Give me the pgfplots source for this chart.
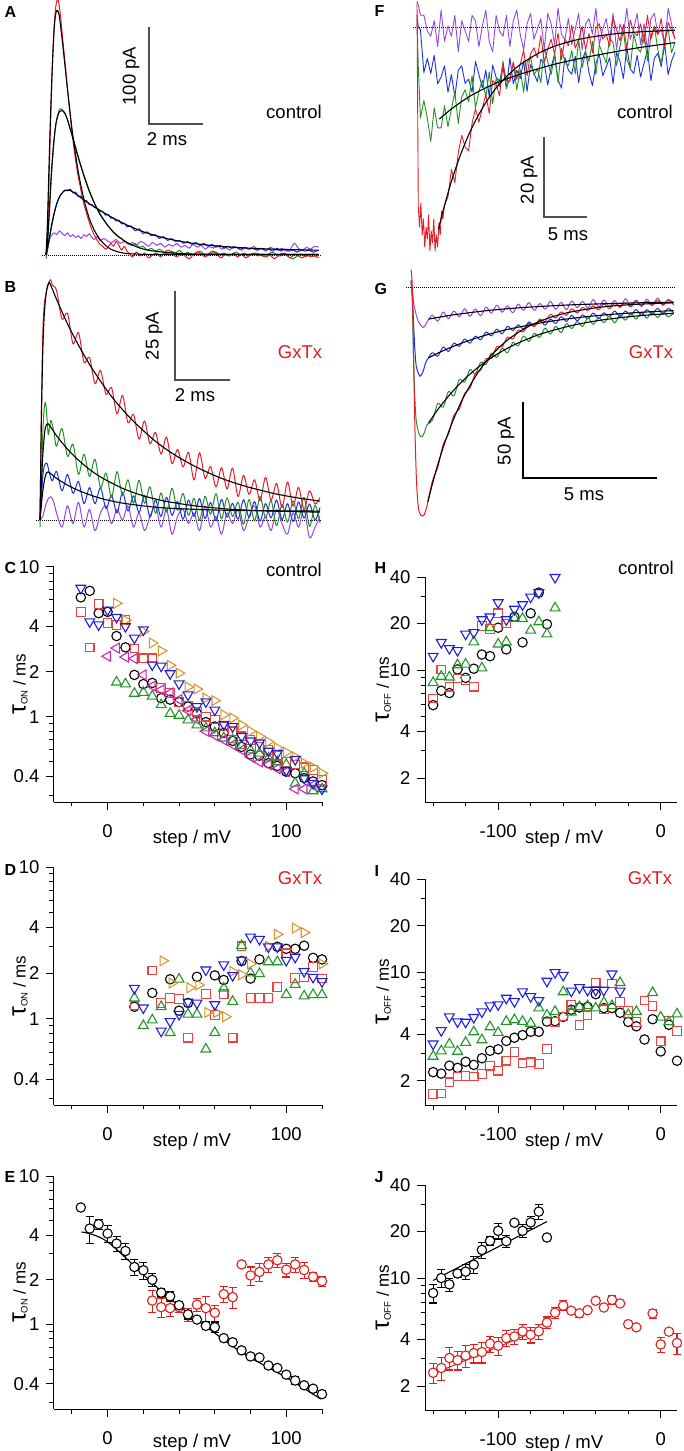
\documentclass[border=0pt]{standalone}
\usepackage{fontspec}
\setmainfont{Liberation Sans}
\usepackage{pgfplots}
\pgfplotsset{compat=1.18}

\definecolor{tred}{RGB}{232,28,36}
\definecolor{tgreen}{RGB}{34,145,40}
\definecolor{tblue}{RGB}{28,48,228}
\definecolor{tpurple}{RGB}{150,70,225}
\definecolor{sred}{RGB}{236,66,66}
\definecolor{sgreen}{RGB}{34,150,40}
\definecolor{sblue}{RGB}{30,30,225}
\definecolor{sorange}{RGB}{214,150,52}
\definecolor{smag}{RGB}{200,40,170}
\definecolor{ered}{RGB}{228,28,28}
\definecolor{barc}{RGB}{80,80,80}

\newcommand\lbl{\fontsize{18.5}{20}\selectfont}
\newcommand\lett{\fontsize{16}{18}\selectfont\bfseries}
\newcommand\tauon{{\fontsize{25}{25}\selectfont τ}\raisebox{-2pt}{\fontsize{9.5}{10}\selectfont ON}{\fontsize{17}{18}\selectfont\ / ms}}
\newcommand\tauoff{{\fontsize{25}{25}\selectfont τ}\raisebox{-2pt}{\fontsize{9.5}{10}\selectfont OFF}{\fontsize{17}{18}\selectfont\ / ms}}

\pgfplotsset{
  mytrace/.style={scale only axis, axis lines=none, ticks=none, clip=false},
  mytr/.style={line width=1pt, smooth, line join=round},
  mynz/.style={line width=0.9pt, line join=round},
  myfit/.style={black, line width=1.1pt, smooth},
  mybase/.style={black, line width=1pt, densely dotted},
  myscat/.style={scale only axis, clip=false,
    axis x line*=bottom, axis y line*=left,
    axis line style={-, line width=1pt},
    tick align=outside, major tick length=8pt, minor tick length=4.5pt,
    tick style={black, line width=1pt},
    tick label style={font=\lbl},
    label style={font=\lbl},
    xticklabel style={anchor=north, yshift=-11pt},
    yticklabel style={anchor=east, xshift=-3pt}},
  myleft/.style={myscat, width=268pt, xmin=-30, xmax=120,
    xtick={0,100}, xticklabels={0,100}, minor xtick={-20,20,40,60,80,120},
    ymin=0.27, ymax=10, ytick={0.4,1,2,4,10}, yticklabels={0.4,1,2,4,10},
    minor ytick={0.3,0.5,0.6,0.7,0.8,0.9,3,5,6,7,8,9},
    xlabel={step / mV}, ylabel={\tauon},
    xlabel style={at={(axis description cs:0.515,0)}, anchor=center, yshift=-37pt},
    ylabel style={at={(axis description cs:-0.127,0.5)}, anchor=center}},
  myright/.style={myscat, width=252pt, xmin=-145, xmax=10,
    xtick={-100,0}, xticklabels={-100,0}, minor xtick={-140,-120,-80,-60,-40,-20},
    ymin=1.4, ymax=40, ytick={2,4,10,20,40}, yticklabels={2,4,10,20,40},
    minor ytick={3,5,6,7,8,9,30},
    xlabel={step / mV}, ylabel={\tauoff},
    xlabel style={at={(axis description cs:0.552,0)}, anchor=center, yshift=-37pt},
    ylabel style={at={(axis description cs:-0.165,0.5)}, anchor=center}},
  myci/.style={only marks, mark=o, mark size=4.7pt, mark options={line width=1.1pt, solid}},
  mysq/.style={only marks, mark=square, mark size=4.3pt, mark options={line width=1.1pt, solid}},
  mytu/.style={only marks, mark=triangle, mark size=5.7pt, mark options={line width=1.1pt, solid}},
  mytd/.style={only marks, mark=triangle, mark size=5.7pt, mark options={line width=1.1pt, solid, rotate=180}},
  mytrt/.style={only marks, mark=triangle, mark size=5.7pt, mark options={line width=1.1pt, solid, rotate=-90}},
  mytl/.style={only marks, mark=triangle, mark size=5.7pt, mark options={line width=1.1pt, solid, rotate=90}},
  mycw/.style={only marks, mark=*, mark size=4.7pt, mark options={fill=white, line width=1.1pt, solid},
    error bars/y dir=both, error bars/y explicit,
    error bars/error bar style={line width=1.1pt},
    error bars/error mark options={rotate=90, mark size=4pt, line width=1.1pt}},
}

\begin{document}
\begin{tikzpicture}
\path[use as bounding box] (0,0) rectangle (683pt,-1451pt);

% ---------------- A : control, ON currents
\begin{axis}[mytrace, at={(46pt,-264.7pt)}, anchor=south west, width=274pt, height=263.8pt,
  xmin=0, xmax=10.15, ymin=-10, ymax=262]
\addplot[mybase] coordinates {(-0.15,0) (10.15,0)};
\addplot[mytr, tpurple] coordinates {(0,0) (0.05,6) (0.1,13) (0.15,18) (0.2,20) (0.3,23) (0.4,21) (0.5,25) (0.6,22) (0.7,20) (0.8,23) (0.9,19) (1.0,21) (1.1,18) (1.2,20) (1.3,17) (1.4,21) (1.5,19) (1.6,22) (1.7,18) (1.8,16) (1.9,19) (2.0,15) (2.15,17) (2.3,14) (2.45,13) (2.6,16) (2.75,12) (2.9,14) (3.05,11) (3.2,13) (3.35,10) (3.5,14) (3.65,12) (3.8,9) (3.95,13) (4.1,10) (4.25,12) (4.4,8) (4.55,11) (4.7,9) (4.85,12) (5.0,8) (5.15,10) (5.3,7) (5.45,11) (5.6,8) (5.75,10) (5.9,6) (6.05,9) (6.2,7) (6.35,10) (6.5,6) (6.65,8) (6.8,5) (6.95,9) (7.1,7) (7.25,5) (7.4,8) (7.55,6) (7.7,9) (7.85,5) (8.0,7) (8.15,4) (8.3,8) (8.45,6) (8.6,5) (8.75,7) (8.9,4) (9.05,6) (9.2,12) (9.35,7) (9.5,5) (9.65,8) (9.8,6) (9.95,9) (10.1,8)};
\addplot[mytr, tblue] coordinates {(0,0) (0.05,4) (0.1,12) (0.15,20) (0.2,28) (0.3,42) (0.4,53) (0.5,60) (0.6,64) (0.7,67) (0.8,66) (0.9,68) (1.0,64) (1.1,65) (1.2,60) (1.3,61) (1.4,56) (1.5,56) (1.6,52) (1.7,52) (1.8,49) (1.9,48) (2.0,45) (2.1,45) (2.2,41) (2.3,42) (2.4,38) (2.5,38) (2.6,35) (2.7,36) (2.8,32) (2.9,33) (3.0,29) (3.15,30) (3.3,25) (3.45,27) (3.6,22) (3.75,24) (3.9,20) (4.05,21) (4.2,17) (4.35,19) (4.5,15) (4.65,17) (4.8,14) (4.95,15) (5.1,12) (5.25,14) (5.4,11) (5.55,13) (5.7,10) (5.85,12) (6.0,9) (6.15,11) (6.3,8) (6.45,10) (6.6,7) (6.75,9) (6.9,7) (7.05,8) (7.2,6) (7.35,8) (7.5,6) (7.65,7) (7.8,5) (7.95,7) (8.1,5) (8.25,6) (8.4,4) (8.55,7) (8.7,4) (8.85,6) (9.0,4) (9.15,5) (9.3,3) (9.45,5) (9.6,4) (9.75,5) (9.9,3) (10.1,5)};
\addplot[mytr, tgreen] coordinates {(0,-4) (0.05,5) (0.1,30) (0.15,55) (0.2,80) (0.25,100) (0.3,118) (0.35,131) (0.4,140) (0.45,146) (0.5,150) (0.55,151) (0.6,150) (0.7,146) (0.8,139) (0.9,130) (1.0,121) (1.1,111) (1.2,101) (1.3,92) (1.4,83) (1.5,75) (1.6,67) (1.7,60) (1.8,53) (1.9,48) (2.0,43) (2.1,38) (2.2,34) (2.3,30) (2.4,27) (2.5,23) (2.6,21) (2.7,18) (2.8,17) (2.9,14) (3.0,13) (3.15,10) (3.3,12) (3.45,8) (3.6,9) (3.75,5) (3.9,7) (4.05,4) (4.2,6) (4.35,3) (4.5,1) (4.65,4) (4.8,2) (4.95,5) (5.1,1) (5.25,3) (5.4,0) (5.55,2) (5.7,4) (5.85,1) (6.0,-1) (6.15,2) (6.3,3) (6.45,0) (6.6,2) (6.75,-1) (6.9,1) (7.05,3) (7.2,0) (7.35,2) (7.5,-1) (7.65,1) (7.8,2) (7.95,0) (8.1,-2) (8.25,1) (8.4,3) (8.55,0) (8.7,-1) (8.85,2) (9.0,-2) (9.15,-4) (9.3,-1) (9.45,1) (9.6,-2) (9.75,0) (9.9,1) (10.1,-1)};
\addplot[mytr, tred] coordinates {(0,0) (0.05,20) (0.1,65) (0.15,115) (0.2,165) (0.25,205) (0.3,235) (0.35,253) (0.4,262) (0.45,263) (0.5,255) (0.55,243) (0.6,228) (0.7,200) (0.8,170) (0.9,143) (1.0,118) (1.1,97) (1.2,80) (1.3,66) (1.4,53) (1.5,43) (1.6,34) (1.7,26) (1.8,20) (1.9,15) (2.0,11) (2.1,9) (2.2,6) (2.3,8) (2.4,12) (2.5,9) (2.6,14) (2.7,10) (2.8,5) (2.9,9) (3.0,4) (3.1,1) (3.2,-2) (3.35,3) (3.5,-1) (3.65,2) (3.8,-3) (3.95,0) (4.1,2) (4.25,-2) (4.4,3) (4.55,5) (4.7,1) (4.85,-2) (5.0,2) (5.15,-1) (5.3,-4) (5.45,0) (5.6,3) (5.75,1) (5.9,-2) (6.05,2) (6.2,4) (6.35,0) (6.5,-3) (6.65,1) (6.8,-1) (6.95,2) (7.1,-2) (7.25,1) (7.4,-3) (7.55,0) (7.7,2) (7.85,-1) (8.0,1) (8.15,-2) (8.3,0) (8.45,-4) (8.6,-1) (8.75,2) (8.9,0) (9.05,-3) (9.2,1) (9.35,-1) (9.5,-3) (9.65,0) (9.8,-2) (9.95,-1) (10.1,-3)};
\addplot[myfit] coordinates {(0,0) (0.1,14) (0.2,30) (0.3,43) (0.4,53) (0.5,60) (0.6,64) (0.7,66.5) (0.8,67) (0.9,66.5) (1.0,65) (1.2,61) (1.4,57) (1.6,53) (1.8,49.5) (2.0,46) (2.4,39.5) (2.8,33.5) (3.2,28.5) (3.6,24) (4.0,20.5) (4.5,16.8) (5.0,14) (5.5,11.8) (6.0,10.2) (6.5,8.9) (7.0,7.9) (7.5,7.1) (8.0,6.5) (8.5,6) (9.0,5.6) (9.5,5.3) (10.1,5)};
\addplot[myfit] coordinates {(0,0) (0.05,12) (0.1,35) (0.15,60) (0.2,85) (0.25,104) (0.3,120) (0.35,132) (0.4,140) (0.5,148) (0.6,149) (0.7,146) (0.8,139) (1.0,120) (1.2,100) (1.4,82) (1.6,66) (1.8,53) (2.0,42) (2.3,30) (2.6,21) (3.0,13) (3.5,7) (4.0,4) (5.0,1.5) (6.0,0.8) (10.1,0.5)};
\addplot[myfit] coordinates {(0,0) (0.05,30) (0.1,80) (0.15,128) (0.2,170) (0.25,205) (0.3,232) (0.35,247) (0.4,252) (0.45,251) (0.5,245) (0.6,222) (0.7,196) (0.8,170) (0.9,145) (1.0,122) (1.2,85) (1.4,58) (1.6,38) (1.8,25) (2.0,16) (2.2,10) (2.4,6) (2.7,3) (3.0,1.5) (3.5,0.8) (4.0,0.5) (10.1,0.5)};
\end{axis}

% ---------------- B : GxTx, ON currents
\begin{axis}[mytrace, at={(40pt,-537.8pt)}, anchor=south west, width=280pt, height=259.9pt,
  xmin=0, xmax=10.18, ymin=-5, ymax=68]
\addplot[mybase] coordinates {(-0.15,0) (10.18,0)};
\addplot[mytr, tpurple] coordinates {(0,0) (0.1,1) (0.2,4) (0.3,6) (0.4,6.5) (0.5,5) (0.6,2) (0.8,-2) (1.0,4) (1.2,-1) (1.4,5) (1.6,-2) (1.8,3) (2.0,-3) (2.2,2) (2.4,4) (2.6,-1) (2.8,3) (3.0,0) (3.2,4) (3.4,-2) (3.6,2) (3.8,-3) (4.0,1) (4.2,4) (4.4,-2) (4.6,3) (4.8,-4) (5.0,1) (5.2,3) (5.4,-1) (5.6,2) (5.8,-3) (6.0,4) (6.2,-2) (6.4,1) (6.6,-4) (6.8,2) (7.0,-1) (7.2,3) (7.4,-3) (7.6,1) (7.8,4) (8.0,-2) (8.2,1) (8.4,-3) (8.6,3) (8.8,-1) (9.0,-4) (9.2,2) (9.4,-2) (9.6,3) (9.8,-5) (10.0,-2) (10.18,1)};
\addplot[mytr, tblue] coordinates {(0,0) (0.05,6) (0.1,12) (0.15,15) (0.25,16) (0.35,13) (0.45,11) (0.6,13.7) (0.8,8.2) (1.0,12.8) (1.2,7.5) (1.4,10.8) (1.6,4.6) (1.8,9.1) (2.0,4.6) (2.2,9.1) (2.4,3.2) (2.6,6.9) (2.8,2.0) (3.0,7.8) (3.2,2.5) (3.4,6.8) (3.6,2.1) (3.8,6.9) (4.0,0.8) (4.2,5.6) (4.4,1.0) (4.6,6.4) (4.8,1.3) (5.0,5.2) (5.2,0.2) (5.4,5.6) (5.6,1.0) (5.8,6.0) (6.0,0.4) (6.2,4.9) (6.4,-0.2) (6.6,5.8) (6.8,0.8) (7.0,4.7) (7.2,0.2) (7.4,5.7) (7.6,0.7) (7.8,5.2) (8.0,-0.3) (8.2,4.6) (8.4,0.6) (8.6,5.6) (8.8,0.1) (9.0,4.6) (9.2,-0.4) (9.4,5.1) (9.6,0.5) (9.8,4.5) (10.0,0.0) (10.18,3.5)};
\addplot[mytr, tgreen] coordinates {(0,-2) (0.05,10) (0.1,24) (0.15,31) (0.2,33) (0.25,29) (0.3,24) (0.35,26) (0.4,28) (0.5,25) (0.6,20.7) (0.8,25.7) (1.0,17.9) (1.2,21.3) (1.4,12.8) (1.6,18.5) (1.8,12.2) (2.0,17.1) (2.2,9.1) (2.4,13.2) (2.6,6.4) (2.8,13.6) (3.0,6.9) (3.2,11.3) (3.4,4.7) (3.6,11.2) (3.8,4.7) (4.0,9.3) (4.2,1.9) (4.4,7.6) (4.6,2.2) (4.8,8.9) (5.0,2.7) (5.2,7.5) (5.4,1.3) (5.6,6.1) (5.8,-0.1) (6.0,6.7) (6.2,1.6) (6.4,7.4) (6.6,0.3) (6.8,6.2) (7.0,1.0) (7.2,5.0) (7.4,-1.2) (7.6,5.8) (7.8,-0.3) (8.0,6.6) (8.2,0.6) (8.4,5.5) (8.6,-1.6) (8.8,4.4) (9.0,-0.6) (9.2,5.4) (9.4,0.3) (9.6,6.3) (9.8,-1.8) (10.0,4.2) (10.18,-0.8)};
\addplot[mytr, tred] coordinates {(0,0) (0.05,30) (0.1,52) (0.15,60) (0.2,63) (0.3,66) (0.38,67.5) (0.45,66) (0.6,64.5) (0.8,56.4) (1.0,58.1) (1.2,49.5) (1.4,52.6) (1.6,44.3) (1.8,45.7) (2.0,38.3) (2.2,42.0) (2.4,35.3) (2.6,37.2) (2.8,29.8) (3.0,35.0) (3.2,27.3) (3.4,29.7) (3.6,22.7) (3.8,27.8) (4.0,21.4) (4.2,24.6) (4.4,18.5) (4.6,23.3) (4.8,15.8) (5.0,19.8) (5.2,14.9) (5.4,19.0) (5.6,11.2) (5.8,18.9) (6.0,11.7) (6.2,15.0) (6.4,9.3) (6.6,14.7) (6.8,8.7) (7.0,14.6) (7.2,6.6) (7.4,12.6) (7.6,7.2) (7.8,11.3) (8.0,5.4) (8.2,12.0) (8.4,5.6) (8.6,10.3) (8.8,3.5) (9.0,10.7) (9.2,3.9) (9.4,9.2) (9.6,2.9) (9.8,8.2) (10.0,4.5) (10.18,6.3)};
\addplot[myfit] coordinates {(0,0) (0.1,8) (0.2,12.5) (0.3,13.5) (0.6,11.7) (1.0,9.8) (1.4,8.3) (1.8,7.1) (2.2,6.1) (2.6,5.35) (3.0,4.75) (3.5,4.2) (4.0,3.75) (4.5,3.4) (5.0,3.2) (6.0,2.9) (7.0,2.7) (8.5,2.6) (10.18,2.5)};
\addplot[myfit] coordinates {(0,0) (0.05,10) (0.1,18) (0.15,23) (0.2,26) (0.3,27) (0.6,23.7) (1.0,19.9) (1.4,16.8) (1.8,14.2) (2.2,12.1) (2.6,10.4) (3.0,8.9) (3.4,7.7) (3.8,6.7) (4.2,5.9) (4.6,5.2) (5.0,4.7) (5.5,4.1) (6.0,3.65) (6.5,3.3) (7.0,3.0) (8.0,2.6) (9.0,2.4) (10.18,2.2)};
\addplot[myfit] coordinates {(0,0) (0.05,28) (0.1,47) (0.15,57) (0.2,62) (0.25,65) (0.3,66.3) (0.36,66.5) (0.6,62.0) (1.0,55.1) (1.4,49.1) (1.8,43.7) (2.2,39.0) (2.6,34.7) (3.0,31.0) (3.4,27.7) (3.8,24.8) (4.2,22.1) (4.6,19.8) (5.0,17.8) (5.5,15.6) (6.0,13.7) (6.5,12.0) (7.0,10.6) (7.5,9.4) (8.0,8.4) (8.5,7.45) (9.0,6.7) (9.5,6.05) (10.18,5.3)};
\end{axis}

% ---------------- F : control, OFF currents
\begin{axis}[mytrace, at={(417pt,-259pt)}, anchor=south west, width=258pt, height=258pt,
  xmin=0, xmax=30, ymin=-58, ymax=6.5]
\addplot[mybase] coordinates {(-0.47,0) (30,0)};
\addplot[mynz, tblue] coordinates {(0,3) (0.15,0) (0.4,-0.7) (0.8,-11.4) (1.2,-7.9) (1.6,-11.6) (2.0,-7.1) (2.4,-14.2) (2.8,-12.5) (3.2,-9.7) (3.6,-16.3) (4.0,-11.9) (4.4,-17.4) (4.8,-10.8) (5.2,-9.7) (5.6,-14.1) (6.0,-13) (6.4,-16.3) (6.8,-8.6) (7.2,-11.9) (7.6,-15.2) (8.0,-10.8) (8.4,-17.4) (8.8,-9.5) (9.2,-12.6) (9.6,-13.5) (10.0,-10.0) (10.4,-15.4) (10.8,-7.7) (11.2,-14.2) (11.6,-10.8) (12.0,-12.9) (12.4,-8.5) (12.8,-16.1) (13.2,-9.4) (13.6,-11.5) (14.0,-13.7) (14.4,-8.1) (14.8,-9.1) (15.2,-14.5) (15.6,-10.1) (16.0,-6.7) (16.4,-13.2) (16.8,-15.3) (17.2,-7.6) (17.6,-10.8) (18.0,-11.8) (18.4,-7.3) (18.8,-13.9) (19.2,-8.3) (19.6,-6.0) (20.0,-11.4) (20.4,-14.7) (20.8,-9.1) (21.2,-6.8) (21.6,-12.2) (22.0,-10.0) (22.4,-7.7) (22.8,-14.2) (23.2,-6.4) (23.6,-8.6) (24.0,-12.9) (24.4,-5.1) (24.8,-10.5) (25.2,-11.6) (25.6,-7.1) (26.0,-12.5) (26.4,-9.1) (26.8,-5.8) (27.2,-13.4) (27.6,-7.8) (28.0,-6.6) (28.4,-9.9) (28.8,-4.3) (29.2,-11.9) (29.6,-8.5) (30.0,-6.3)};
\addplot[mynz, tgreen] coordinates {(0,2) (0.15,-10) (0.4,-22.8) (0.8,-18.4) (1.2,-22.8) (1.6,-28.6) (2.0,-20.2) (2.4,-25.2) (2.8,-25.2) (3.2,-19.7) (3.6,-24.9) (4.0,-20.5) (4.4,-16.3) (4.8,-24.1) (5.2,-17.5) (5.6,-15.7) (6.0,-18.7) (6.4,-12.2) (6.8,-20.2) (7.2,-16.1) (7.6,-13.3) (8.0,-17.6) (8.4,-11.2) (8.8,-19.2) (9.2,-12.9) (9.6,-14.9) (10.0,-8.5) (10.4,-15.4) (10.8,-12.7) (11.2,-8.8) (11.6,-15.7) (12.0,-10.6) (12.4,-16.3) (12.8,-8.9) (13.2,-7.4) (13.6,-12.0) (14.0,-10.5) (14.4,-13.9) (14.8,-5.2) (15.2,-8.6) (15.6,-11.9) (16.0,-6.9) (16.4,-13.9) (16.8,-5.3) (17.2,-8.7) (17.6,-9.7) (18.0,-5.9) (18.4,-11.7) (18.8,-3.1) (19.2,-10.2) (19.6,-6.4) (20.0,-8.6) (20.4,-3.6) (20.8,-11.9) (21.2,-4.5) (21.6,-6.8) (22.0,-9.0) (22.4,-2.8) (22.8,-3.9) (23.2,-9.7) (23.6,-4.8) (24.0,-1.0) (24.4,-8.1) (24.8,-10.3) (25.2,-1.8) (25.6,-5.2) (26.0,-6.3) (26.4,-1.4) (26.8,-8.5) (27.2,-2.3) (27.6,0.2) (28.0,-5.7) (28.4,-9.2) (28.8,-3.0) (29.2,-0.5) (29.6,-6.4) (30.0,-3.9)};
\addplot[mynz, tpurple] coordinates {(0,6.5) (0.2,5) (0.4,3) (0.8,2.9) (1.2,-1) (1.6,-2.3) (2.0,1.6) (2.4,-4.9) (2.8,4.2) (3.2,-3.6) (3.6,0.3) (4.0,-2.3) (4.4,2.9) (4.8,-6.2) (5.2,1.6) (5.6,-1) (6.0,-3.6) (6.4,2.9) (6.8,1.6) (7.2,-4.9) (7.6,0.3) (8.0,4.2) (8.4,-3.6) (8.8,-6.2) (9.2,2.9) (9.6,-1) (10.0,-2.3) (10.4,2.9) (10.8,-4.9) (11.2,1.6) (11.6,4.2) (12.0,-1.8) (12.4,-5.7) (12.8,0.8) (13.2,3.4) (13.6,-3.1) (14.0,-0.5) (14.4,2.1) (14.8,-5.7) (15.2,3.4) (15.6,0.8) (16.0,-4.4) (16.4,4.7) (16.8,-1.8) (17.2,-3.1) (17.6,2.1) (18.0,-4.4) (18.4,-0.5) (18.8,3.4) (19.2,-5.7) (19.6,0.8) (20.0,2.1) (20.4,-1.8) (20.8,4.7) (21.2,-4.4) (21.6,-0.5) (22.0,2.1) (22.4,-3.1) (22.8,3.4) (23.2,-5.7) (23.6,0.8) (24.0,-1.8) (24.4,4.7) (24.8,-3.1) (25.2,-0.5) (25.6,3.4) (26.0,-4.4) (26.4,0.8) (26.8,-5.7) (27.2,2.1) (27.6,3.4) (28.0,-1.8) (28.4,-0.5) (28.8,-4.4) (29.2,4.7) (29.6,0.8) (30.0,-3.1)};
\addplot[mynz, tred] coordinates {(0,6) (0.15,-45) (0.3,-50) (0.45,-44) (0.6,-52) (0.75,-48) (0.9,-55) (1.05,-50) (1.2,-53) (1.35,-47) (1.5,-56) (1.65,-51) (1.8,-54) (1.95,-48) (2.1,-56) (2.25,-52) (2.4,-55) (2.55,-49) (2.7,-52) (2.85,-46) (3.0,-48) (3.2,-44.5) (3.6,-42.5) (4.0,-35.6) (4.4,-38.9) (4.8,-31.4) (5.2,-27.1) (5.6,-30.0) (6.0,-31.0) (6.4,-24.1) (6.8,-20.4) (7.2,-23.8) (7.6,-20.3) (8.0,-16.9) (8.4,-21.6) (8.8,-13.4) (9.2,-14.3) (9.6,-17.2) (10.0,-9.3) (10.4,-13.4) (10.8,-13.6) (11.2,-8.8) (11.6,-13.1) (12.0,-9.4) (12.4,-5.8) (12.8,-12.2) (13.2,-6.7) (13.6,-5.2) (14.0,-7.7) (14.4,-2.2) (14.8,-8.8) (15.2,-5.5) (15.6,-3.1) (16.0,-6.8) (16.4,-1.5) (16.8,-8.2) (17.2,-3.0) (17.6,-4.7) (18.0,0.5) (18.4,-5.3) (18.8,-3.1) (19.2,0.1) (19.6,-5.7) (20.0,-1.6) (20.4,-6.4) (20.8,-0.3) (21.2,0.8) (21.6,-3.0) (22.0,-1.9) (22.4,-4.8) (22.8,2.3) (23.2,-0.6) (23.6,-3.5) (24.0,0.6) (24.4,-5.4) (24.8,1.7) (25.2,-1.3) (25.6,-2.2) (26.0,0.8) (26.4,-4.1) (26.8,2.9) (27.2,-3.0) (27.6,0.0) (28.0,-1.9) (28.4,2.1) (28.8,-4.9) (29.2,1.2) (29.6,-0.8) (30.0,-2.8)};
\addplot[myfit] coordinates {(2.6,-23) (4,-20.5) (6,-17.5) (8,-15.2) (10,-13.3) (12,-11.8) (14,-10.5) (16,-9.3) (18,-8.3) (20,-7.4) (22,-6.6) (24,-5.8) (26,-5.1) (28,-4.5) (30,-3.9)};
\addplot[myfit] coordinates {(2.5,-50.5) (3,-46.2) (4,-38.6) (5,-32.3) (6,-27.0) (7,-22.6) (8,-18.9) (9,-15.8) (10,-13.3) (11,-11.2) (12,-9.4) (14,-6.7) (16,-4.8) (18,-3.5) (20,-2.6) (23,-1.7) (26,-1.2) (30,-0.8)};
\end{axis}

% ---------------- G : GxTx, OFF currents
\begin{axis}[mytrace, at={(411pt,-519pt)}, anchor=south west, width=264pt, height=249.3pt,
  xmin=0, xmax=9.85, ymin=-152, ymax=12]
\addplot[mybase] coordinates {(-0.19,0) (9.85,0)};
\addplot[mytr, tpurple] coordinates {(0,3) (0.05,-2) (0.1,-10) (0.2,-18) (0.3,-23) (0.45,-26) (0.55,-24) (0.65,-21) (0.8,-18.0) (1.0,-21.9) (1.2,-15.8) (1.4,-20.2) (1.6,-15.1) (1.8,-19.1) (2.0,-13.7) (2.2,-18.7) (2.4,-13.8) (2.6,-18.4) (2.8,-12.5) (3.0,-16.6) (3.2,-11.3) (3.4,-16.0) (3.6,-11.7) (3.8,-16.4) (4.0,-10.6) (4.2,-14.8) (4.4,-9.6) (4.6,-14.9) (4.8,-10.2) (5.0,-14.0) (5.2,-8.8) (5.4,-14.1) (5.6,-9.4) (5.8,-14.3) (6.0,-8.6) (6.2,-13.0) (6.4,-8.8) (6.6,-13.2) (6.8,-7.6) (7.0,-12.5) (7.2,-7.9) (7.4,-12.3) (7.6,-8.2) (7.8,-13.1) (8.0,-7.0) (8.2,-11.9) (8.4,-7.9) (8.6,-12.3) (8.8,-7.25) (9.0,-11.6) (9.2,-6.55) (9.4,-11.5) (9.6,-7.45) (9.8,-11.4)};
\addplot[mytr, tblue] coordinates {(0,5) (0.05,-5) (0.1,-25) (0.15,-42) (0.2,-52) (0.3,-57) (0.35,-58) (0.45,-55) (0.55,-49) (0.65,-46) (0.8,-42.6) (1.0,-44.9) (1.2,-38.8) (1.4,-41.8) (1.6,-36.3) (1.8,-38.4) (2.0,-33.6) (2.2,-36.4) (2.4,-31.7) (2.6,-34.1) (2.8,-29.0) (3.0,-31.5) (3.2,-27.1) (3.4,-30.2) (3.6,-25.3) (3.8,-28.0) (4.0,-24.3) (4.2,-27.0) (4.4,-22.3) (4.6,-25.2) (4.8,-21.1) (5.0,-24.5) (5.2,-20.5) (5.4,-23.4) (5.6,-18.9) (5.8,-22.0) (6.0,-18.0) (6.2,-21.6) (6.4,-17.7) (6.6,-20.3) (6.8,-16.5) (7.0,-20.1) (7.2,-16.3) (7.4,-19.0) (7.6,-15.2) (7.8,-18.9) (8.0,-15.2) (8.2,-17.9) (8.4,-14.2) (8.6,-18.0) (8.8,-14.3) (9.0,-17.1) (9.2,-13.4) (9.4,-17.2) (9.6,-13.5) (9.8,-16.4)};
\addplot[mytr, tgreen] coordinates {(0,5) (0.05,-10) (0.1,-50) (0.15,-75) (0.2,-88) (0.3,-96) (0.4,-98) (0.5,-95) (0.6,-90) (0.8,-87.0) (1.0,-76.0) (1.2,-78.4) (1.4,-68.1) (1.6,-71.1) (1.8,-60.4) (2.0,-61.9) (2.2,-53.7) (2.4,-56.7) (2.6,-48.9) (2.8,-50.3) (3.0,-42.9) (3.2,-45.7) (3.4,-39.6) (3.6,-42.7) (3.8,-35.9) (4.0,-38.2) (4.2,-31.6) (4.4,-35.2) (4.6,-29.9) (4.8,-32.6) (5.0,-26.4) (5.2,-30.4) (5.4,-25.3) (5.6,-29.4) (5.8,-23.5) (6.0,-26.7) (6.2,-22.0) (6.4,-25.3) (6.6,-19.6) (6.8,-24.0) (7.0,-19.4) (7.2,-22.9) (7.4,-18.4) (7.6,-23.0) (7.8,-17.6) (8.0,-21.2) (8.2,-16.8) (8.4,-20.5) (8.6,-16.2) (8.8,-19.9) (9.0,-15.6) (9.2,-19.4) (9.4,-16.1) (9.6,-18.9) (9.8,-16.7)};
\addplot[mytr, tred] coordinates {(0,12) (0.05,0) (0.1,-50) (0.15,-95) (0.2,-125) (0.25,-140) (0.3,-147) (0.4,-150) (0.5,-149) (0.6,-143) (0.8,-127) (1.0,-118) (1.2,-103) (1.4,-96) (1.6,-83.7) (1.8,-79.7) (2.0,-69.5) (2.2,-66) (2.4,-56.2) (2.6,-54.1) (2.8,-46.5) (3.0,-46.3) (3.2,-38.6) (3.4,-38.8) (3.6,-32.3) (3.8,-33.6) (4.0,-27.8) (4.2,-28.7) (4.4,-23.2) (4.6,-25.5) (4.8,-20.5) (5.0,-22.1) (5.2,-17.4) (5.4,-19.8) (5.6,-15.8) (5.8,-18.0) (6.0,-13.7) (6.2,-16.5) (6.4,-12.9) (6.6,-14.8) (6.8,-11.8) (7.0,-14.3) (7.2,-10.4) (7.4,-13.6) (7.6,-10.3) (7.8,-12.5) (8.0,-9.7) (8.2,-12.5) (8.4,-8.8) (8.6,-11.6) (8.8,-8.9) (9.0,-11.3) (9.2,-8.2) (9.4,-11.1) (9.6,-8.0) (9.8,-9.9)};
\addplot[myfit] coordinates {(0.65,-20.5) (1.0,-19.4) (1.5,-17.9) (2.0,-16.7) (2.5,-15.6) (3.0,-14.6) (4.0,-13.1) (5.0,-12.0) (6.0,-11.1) (7.0,-10.5) (8.0,-10.0) (9.0,-9.6) (9.8,-9.4)};
\addplot[myfit] coordinates {(0.65,-46) (1.0,-42.9) (1.5,-39.0) (2.0,-35.6) (2.5,-32.6) (3.0,-30.0) (3.5,-27.7) (4.0,-25.8) (5.0,-22.5) (6.0,-20.0) (7.0,-18.1) (8.0,-16.7) (9.0,-15.6) (9.8,-14.9)};
\addplot[myfit] coordinates {(0.65,-89) (1.0,-80.0) (1.5,-69.1) (2.0,-59.9) (2.5,-52.3) (3.0,-45.9) (3.5,-40.6) (4.0,-36.2) (4.5,-32.5) (5.0,-29.4) (6.0,-24.7) (7.0,-21.4) (8.0,-19.2) (9.0,-17.6) (9.8,-16.7)};
\addplot[myfit] coordinates {(0.63,-140.6) (0.8,-128.8) (1.0,-116.1) (1.25,-102.3) (1.5,-90.2) (1.75,-79.7) (2.0,-70.5) (2.5,-55.6) (3.0,-44.3) (3.5,-35.7) (4.0,-29.3) (4.5,-24.3) (5.0,-20.6) (5.5,-17.8) (6.0,-15.7) (7.0,-12.8) (8.0,-11.2) (9.0,-10.3) (9.8,-9.8)};
\end{axis}

% ---------------- C : tau ON control
\begin{semilogyaxis}[myleft, at={(54pt,-802pt)}, anchor=south west, height=235.3pt]
\addplot[myci, black] coordinates {(-15,6.25) (-10,6.9) (-5,4.9) (0,5.0) (5,3.45) (10,2.9) (15,1.9) (20,1.65) (25,1.68) (30,1.33) (35,1.3) (40,1.25) (45,1.17) (50,1.05) (55,0.92) (60,0.86) (65,0.78) (70,0.69) (75,0.63) (80,0.56) (85,0.55) (90,0.49) (95,0.47) (100,0.43) (105,0.42) (110,0.39) (115,0.37) (120,0.35)};
\addplot[mysq, sred] coordinates {(-15,5.0) (-10,2.9) (-5,5.65) (0,4.2) (5,4.1) (10,4.4) (15,2.85) (20,2.45) (25,2.45) (30,1.55) (35,1.44) (40,1.25) (45,1.18) (50,1.08) (55,1.0) (60,0.96) (65,0.86) (70,0.8) (75,0.74) (80,0.7) (85,0.63) (90,0.6) (95,0.55) (100,0.5) (105,0.48) (110,0.46) (115,0.44) (120,0.38)};
\addplot[mytu, sgreen] coordinates {(5,1.7) (10,1.65) (15,1.43) (20,1.45) (25,1.37) (30,1.2) (35,1.05) (40,1.02) (45,0.95) (50,0.88) (55,0.84) (60,0.78) (65,0.72) (70,0.7) (75,0.64) (80,0.6) (85,0.57) (90,0.53) (95,0.5) (100,0.48) (105,0.36) (110,0.42) (115,0.32) (120,0.33)};
\addplot[mytrt, sorange] coordinates {(5,5.7) (10,4.4) (20,3.7) (25,3.1) (30,2.75) (35,2.2) (40,1.95) (45,1.58) (50,1.53) (55,1.33) (60,1.28) (65,1.03) (70,0.98) (75,0.88) (80,0.8) (85,0.74) (90,0.68) (95,0.62) (100,0.58) (105,0.54) (110,0.49) (115,0.46) (120,0.42)};
\addplot[mytl, smag] coordinates {(0,2.53) (5,2.87) (10,2.5) (15,2.44) (20,1.9) (25,1.6) (30,1.51) (35,1.44) (40,1.3) (45,1.1) (50,0.96) (55,0.8) (60,0.75) (65,0.7) (70,0.65) (75,0.6) (80,0.54) (85,0.5) (90,0.48) (95,0.45) (100,0.43) (105,0.33) (110,0.33) (115,0.35)};
\addplot[mytd, sblue] coordinates {(-15,7.2) (-10,4.3) (-5,4.1) (0,5.15) (5,4.6) (10,4.0) (15,3.35) (20,3.8) (25,2.22) (30,2.18) (35,1.94) (40,1.66) (45,1.4) (50,1.17) (55,1.26) (60,1.11) (65,0.89) (70,0.86) (75,0.74) (80,0.69) (85,0.67) (90,0.59) (95,0.57) (100,0.44) (105,0.52) (110,0.39) (115,0.36) (120,0.33)};
\end{semilogyaxis}

% ---------------- D : tau ON GxTx
\begin{semilogyaxis}[myleft, at={(54pt,-1105pt)}, anchor=south west, height=238pt]
\addplot[myci, black] coordinates {(15,1.2) (25,1.48) (35,1.82) (40,1.13) (45,1.27) (50,1.89) (60,1.93) (65,1.8) (75,2.4) (80,1.84) (85,2.46) (95,2.98) (100,2.89) (105,2.89) (110,3.03) (115,2.52) (120,2.46)};
\addplot[mysq, sred] coordinates {(15,1.22) (25,2.08) (30,1.27) (35,1.37) (40,1.35) (45,0.75) (55,1.46) (60,1.06) (65,1.46) (70,0.75) (75,3.0) (80,1.37) (85,1.37) (90,1.37) (95,1.62) (100,2.7) (105,1.86) (110,1.87) (115,2.2) (120,1.84)};
\addplot[mytu, sgreen] coordinates {(15,1.37) (20,0.9) (25,0.98) (30,1.2) (35,0.81) (40,1.82) (45,1.07) (50,1.07) (55,0.63) (60,0.81) (65,1.59) (70,1.3) (75,3.03) (80,2.0) (85,1.98) (90,2.37) (95,2.37) (100,1.44) (105,1.68) (110,1.41) (115,1.44) (120,1.44)};
\addplot[mytrt, sorange] coordinates {(31,2.41) (36,1.72) (46,1.6) (51,1.67) (56,1.1) (61,1.1) (66,1.03) (70,2.05) (75,1.95) (80,2.3) (90,3.0) (95,3.6) (105,3.96) (110,3.7) (120,2.3)};
\addplot[mytd, sblue] coordinates {(15,1.59) (20,1.18) (30,0.83) (35,0.96) (40,1.07) (45,1.29) (50,1.27) (55,2.1) (60,1.24) (65,2.27) (70,1.93) (75,2.44) (80,3.46) (85,3.34) (90,2.98) (95,2.98) (100,2.43) (105,2.55) (110,2.05) (115,1.88) (120,1.76)};
\end{semilogyaxis}

% ---------------- E : tau ON means
\begin{semilogyaxis}[myleft, at={(54pt,-1409pt)}, anchor=south west, height=233pt, xlabel style={yshift=3.5pt}]
\addplot[black, line width=1.1pt, smooth] coordinates {(-14.6,4.2) (0,3.6) (30,1.68) (50,1.08) (75,0.65) (100,0.44) (119.3,0.315)};
\addplot[mycw, ered] coordinates {(25,1.45) +- (0,0.25) (30,1.31) +- (0,0.2) (35,1.29) +- (0,0.15) (40,1.31) +- (0,0.1) (45,1.17) +- (0,0.12) (50,1.36) +- (0,0.13) (55,1.29) +- (0,0.25) (60,1.2) +- (0,0.15) (65,1.6) +- (0,0.2) (70,1.53) +- (0,0.25) (75,2.54) +- (0,0.1) (80,2.14) +- (0,0.3) (85,2.26) +- (0,0.3) (90,2.54) +- (0,0.3) (95,2.71) +- (0,0.3) (100,2.34) +- (0,0.25) (105,2.54) +- (0,0.3) (110,2.33) +- (0,0.3) (115,2.1) +- (0,0.15) (120,1.96) +- (0,0.15)};
\addplot[mycw, black] coordinates {(-15,6.14) +- (0,0.2) (-10,4.43) +- (0,0.9) (-5,4.74) +- (0,0.35) (0,4.1) +- (0,0.55) (5,3.51) +- (0,0.4) (10,3.13) +- (0,0.4) (15,2.44) +- (0,0.3) (20,2.32) +- (0,0.3) (25,2.0) +- (0,0.2) (30,1.64) +- (0,0.1) (35,1.55) +- (0,0.12) (40,1.35) +- (0,0.08) (45,1.17) +- (0,0.08) (50,1.08) +- (0,0.05) (55,0.98) +- (0,0.06) (60,0.96) +- (0,0.08) (65,0.81) +- (0,0.03) (70,0.76) +- (0,0.03) (75,0.67) +- (0,0.03) (80,0.61) +- (0,0.02) (85,0.6) +- (0,0.02) (90,0.53) +- (0,0.02) (95,0.51) +- (0,0.02) (100,0.46) +- (0,0.02) (105,0.42) +- (0,0.025) (110,0.39) +- (0,0.02) (115,0.37) +- (0,0.02) (120,0.34) +- (0,0.01)};
\end{semilogyaxis}

% ---------------- H : tau OFF control
\begin{semilogyaxis}[myright, at={(425pt,-802pt)}, anchor=south west, height=225pt]
\addplot[myci, black] coordinates {(-140,5.93) (-135,7.35) (-130,7.1) (-125,10.1) (-120,8.9) (-115,10.2) (-110,12.6) (-105,12.3) (-100,18.8) (-95,13.6) (-90,22.1) (-85,15.1) (-80,23.3) (-75,31.7) (-70,19.8)};
\addplot[mysq, sred] coordinates {(-140,6.56) (-135,10.1) (-130,7.8) (-125,8.8) (-120,8.65) (-115,7.8) (-110,19.3) (-105,18.4) (-100,23.3) (-95,20.0)};
\addplot[mytu, sgreen] coordinates {(-140,8.28) (-135,9.1) (-130,9.0) (-125,10.8) (-120,10.9) (-115,15.2) (-110,10.3) (-105,18.8) (-100,14.7) (-95,15.2) (-90,21.6) (-85,21.5) (-80,18.1) (-75,20.5) (-70,17.1) (-65,25.2)};
\addplot[mytd, sblue] coordinates {(-140,12.3) (-135,15.1) (-130,13.8) (-125,13.4) (-120,17.1) (-115,17.5) (-110,21.2) (-105,22.1) (-100,27.3) (-95,21.2) (-90,24.8) (-85,26.5) (-80,29.7) (-75,31.7) (-65,39.8)};
\end{semilogyaxis}

% ---------------- I : tau OFF GxTx
\begin{semilogyaxis}[myright, at={(425pt,-1105pt)}, anchor=south west, height=226pt]
\addplot[myci, black] coordinates {(-140,2.28) (-135,2.23) (-130,2.51) (-125,2.43) (-120,2.66) (-115,2.54) (-110,2.8) (-105,3.13) (-100,3.2) (-95,3.62) (-90,3.8) (-85,3.95) (-80,4.15) (-75,4.15) (-70,4.83) (-65,4.85) (-60,5.17) (-55,5.75) (-50,5.95) (-45,6.0) (-40,7.25) (-35,5.9) (-30,5.9) (-25,5.5) (-20,4.8) (-15,4.5) (-10,3.7) (-5,5.0) (0,3.1) (5,4.6) (10,2.7)};
\addplot[mysq, sred] coordinates {(-140,1.65) (-135,1.66) (-130,1.96) (-125,2.14) (-120,2.15) (-115,2.14) (-110,2.22) (-105,2.51) (-100,2.33) (-95,2.7) (-90,3.08) (-85,2.6) (-80,2.64) (-75,2.58) (-70,3.21) (-65,4.8) (-60,5.2) (-55,6.2) (-50,4.6) (-45,5.3) (-40,8.6) (-35,5.8) (-30,8.5) (-25,6.45) (-20,5.7) (-15,4.8) (-10,6.6) (-5,6.1) (0,3.6) (5,4.9) (10,4.2)};
\addplot[mytu, sgreen] coordinates {(-140,2.88) (-135,3.12) (-130,3.45) (-125,3.1) (-120,3.54) (-115,4.14) (-110,3.68) (-105,4.46) (-100,4.1) (-95,4.83) (-90,4.95) (-85,4.83) (-80,4.7) (-75,5.9) (-70,5.3) (-65,5.6) (-60,7.5) (-55,5.54) (-50,6.0) (-45,6.1) (-40,5.9) (-35,6.4) (-30,6.1) (-25,8.6) (-20,5.35) (-15,5.6) (-5,7.4) (0,5.15) (5,4.8) (10,5.4)};
\addplot[mytd, sblue] coordinates {(-140,3.47) (-135,4.23) (-130,5.19) (-125,4.82) (-120,4.79) (-115,5.14) (-110,5.58) (-105,6.1) (-100,6.2) (-95,6.84) (-90,6.5) (-85,7.52) (-80,7.0) (-75,6.6) (-70,8.8) (-65,10.0) (-60,9.6) (-55,7.6) (-50,8.0) (-45,7.7) (-40,7.7) (-35,7.7) (-30,9.8) (-25,7.6)};
\end{semilogyaxis}

% ---------------- J : tau OFF means
\begin{semilogyaxis}[myright, at={(425pt,-1410pt)}, anchor=south west, height=225pt, xlabel style={yshift=3.5pt}]
\addplot[black, line width=1.1pt] coordinates {(-140,9.65) (-70,23.2)};
\addplot[ered, line width=1pt] coordinates {(-140,2.4) (-72,4.75)};
\addplot[mycw, black] coordinates {(-140,8.0) +- (0,1.1) (-135,10.0) +- (0,1.3) (-130,9.1) +- (0,0.9) (-125,10.7) +- (0,0.6) (-120,11.0) +- (0,1.2) (-115,12.2) +- (0,1.5) (-110,15.2) +- (0,1.8) (-105,17.4) +- (0,1.2) (-100,20.2) +- (0,2.3) (-95,17.3) +- (0,1.5) (-90,22.8) +- (0,0.5) (-85,20.2) +- (0,2) (-80,22.9) +- (0,2) (-75,26.9) +- (0,3) (-70,18.3) +- (0,0.8)};
\addplot[mycw, ered] coordinates {(-140,2.44) +- (0,0.35) (-135,2.62) +- (0,0.45) (-130,3.04) +- (0,0.5) (-125,2.94) +- (0,0.4) (-120,3.15) +- (0,0.5) (-115,3.27) +- (0,0.45) (-110,3.32) +- (0,0.5) (-105,3.76) +- (0,0.45) (-100,3.65) +- (0,0.5) (-95,4.09) +- (0,0.5) (-90,4.19) +- (0,0.45) (-85,4.52) +- (0,0.5) (-80,4.3) +- (0,0.5) (-75,4.52) +- (0,0.5) (-70,5.15) +- (0,0.45) (-65,5.97) +- (0,0.5) (-60,6.63) +- (0,0.5) (-55,6.15) +- (0,0.25) (-50,5.92) +- (0,0.35) (-45,6.2) +- (0,0.2) (-40,7.13) +- (0,0.3) (-35,6.45) +- (0,0.15) (-30,7.23) +- (0,0.45) (-25,6.85) +- (0,0.3) (-20,5.03) +- (0,0.1) (-15,4.8) +- (0,0.1) (-5,5.9) +- (0,0.4) (0,3.72) +- (0,0.4) (5,4.5) +- (0,0.1) (10,3.8) +- (0,0.6)};
\end{semilogyaxis}

% ---------------- scale bars, panel letters and labels
\draw[barc, line width=1.3pt] (149pt,-27pt) -- (149pt,-124pt) -- (203pt,-124pt);
\node[rotate=90, font=\lbl] at (131pt,-76pt) {100 pA};
\node[font=\lbl] at (167pt,-139pt) {2 ms};
\node[font=\lbl] at (294pt,-112pt) {control};

\draw[barc, line width=1.3pt] (175pt,-291pt) -- (175pt,-380pt) -- (230pt,-380pt);
\node[rotate=90, font=\lbl] at (154pt,-336pt) {25 pA};
\node[font=\lbl] at (195pt,-395pt) {2 ms};
\node[font=\lbl, text=ered] at (300pt,-352pt) {GxTx};

\draw[barc, line width=1.3pt] (544pt,-137pt) -- (544pt,-217pt) -- (587pt,-217pt);
\node[rotate=90, font=\lbl] at (529pt,-180pt) {20 pA};
\node[font=\lbl] at (568pt,-234pt) {5 ms};
\node[font=\lbl] at (645pt,-112pt) {control};

\draw[black, line width=1.3pt] (523pt,-402pt) -- (523pt,-478pt) -- (657pt,-478pt);
\node[rotate=90, font=\lbl] at (506pt,-441pt) {50 pA};
\node[font=\lbl] at (584pt,-494pt) {5 ms};
\node[font=\lbl, text=ered] at (651pt,-352pt) {GxTx};

\node[font=\lbl] at (294pt,-570pt) {control};
\node[font=\lbl, text=ered] at (300pt,-878pt) {GxTx};
\node[font=\lbl] at (646pt,-568pt) {control};
\node[font=\lbl, text=ered] at (650pt,-878pt) {GxTx};

\node[font=\lett, anchor=west] at (1pt,-12pt) {A};
\node[font=\lett, anchor=west] at (1pt,-287pt) {B};
\node[font=\lett, anchor=west] at (1pt,-568pt) {C};
\node[font=\lett, anchor=west] at (1pt,-870pt) {D};
\node[font=\lett, anchor=west] at (1pt,-1177pt) {E};
\node[font=\lett, anchor=west] at (371pt,-11pt) {F};
\node[font=\lett, anchor=west] at (371pt,-289pt) {G};
\node[font=\lett, anchor=west] at (371pt,-568pt) {H};
\node[font=\lett, anchor=west] at (371pt,-871pt) {I};
\node[font=\lett, anchor=west] at (371pt,-1177pt) {J};
\end{tikzpicture}
\end{document}
